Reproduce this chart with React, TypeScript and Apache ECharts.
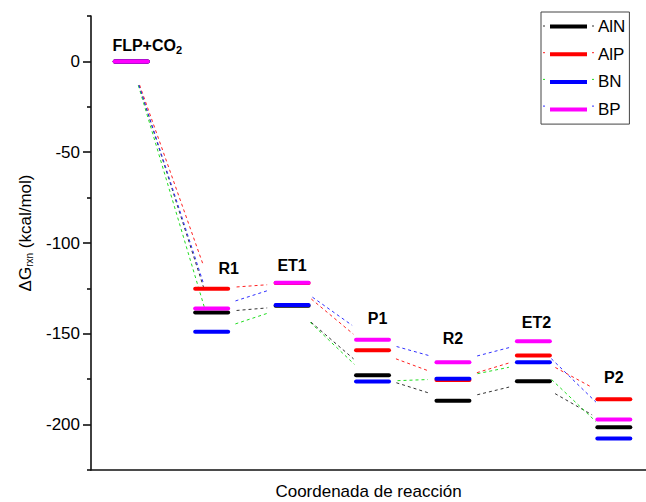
import React, { useEffect, useRef } from 'react';
import * as echarts from 'echarts';

// ---------- data ----------
const stages = ['FLP+CO2', 'R1', 'ET1', 'P1', 'R2', 'ET2', 'P2'];
const compounds = ['AlN', 'AlP', 'BN', 'BP'];
const alnValues = [0, -138.3, -134.6, -172.8, -186.8, -176.1, -201.5];
const alpValues = [0, -125.2, -122.0, -159.0, -175.4, -162.0, -186.0];
const bnValues = [0, -148.9, -134.2, -176.3, -174.7, -165.7, -207.7];
const bpValues = [0, -136.1, -121.9, -153.3, -165.7, -154.1, -197.2];
const majorTicks = [-200, -150, -100, -50, 0];
const minorTicks = [-225, -175, -125, -75, -25, 25];

// ---------- styles ----------
const FONT = 'Arial, "Liberation Sans", sans-serif';
const levelColors = ['#000000', '#ff0000', '#0000ff', '#ff00ff'];
const linkColors = ['#333333', '#ff2020', '#22dd22', '#3030ff'];
const HALF = 0.205; // half width of a level bar, in axis units
const GAP = 25; // px gap between connector end and level centre
const LABEL_DX = [16, 17, 0, 5, 0, 3, 0];
const LABEL_DY = [-16, -20, -17, -21, -24, -19, -22];
const LEGEND_LEFT = 541;
const LEGEND_TOP = 12;
const LEGEND_ROW0 = 26;
const LEGEND_ROW_STEP = 26.7;

const seriesValues = [alnValues, alpValues, bnValues, bpValues];

function buildOption() {
  const connectorSeries = compounds.map((name, k) => ({
    type: 'custom',
    name: name + ' link',
    z: 2,
    silent: true,
    encode: { x: 0, y: [1, 2] },
    data: seriesValues[k].slice(0, -1).map((v, i) => [i, v, seriesValues[k][i + 1]]),
    renderItem: (_params: any, api: any) => {
      const i = api.value(0);
      const a = api.coord([i, api.value(1)]);
      const b = api.coord([i + 1, api.value(2)]);
      const dx = b[0] - a[0];
      const dy = b[1] - a[1];
      const len = Math.hypot(dx, dy);
      const ux = dx / len;
      const uy = dy / len;
      return {
        type: 'line',
        shape: { x1: a[0] + ux * GAP, y1: a[1] + uy * GAP, x2: b[0] - ux * GAP, y2: b[1] - uy * GAP },
        style: { stroke: linkColors[k], lineWidth: 1, lineDash: [3, 3], fill: null },
      };
    },
  }));

  const levelSeries = compounds.map((name, k) => ({
    type: 'custom',
    name,
    z: 3,
    silent: true,
    itemStyle: { color: levelColors[k] },
    encode: { x: 0, y: 1 },
    data: seriesValues[k].map((v, i) => [i, v]),
    renderItem: (_params: any, api: any) => {
      const i = api.value(0);
      const v = api.value(1);
      const a = api.coord([i - HALF, v]);
      const b = api.coord([i + HALF, v]);
      return {
        type: 'line',
        shape: { x1: a[0], y1: a[1], x2: b[0], y2: b[1] },
        style: { stroke: levelColors[k], lineWidth: 4, lineCap: 'round', fill: null },
      };
    },
  }));

  const labelSeries = {
    type: 'custom',
    name: 'labels',
    z: 4,
    silent: true,
    encode: { x: 0, y: 1 },
    data: stages.map((s, i) => [i, Math.max(...seriesValues.map((arr) => arr[i]))]),
    renderItem: (params: any, api: any) => {
      const i = api.value(0);
      const p = api.coord([i, api.value(1)]);
      const name = stages[params.dataIndex];
      const isFirst = name === 'FLP+CO2';
      return {
        type: 'text',
        x: p[0] + LABEL_DX[params.dataIndex],
        y: p[1] + LABEL_DY[params.dataIndex],
        style: {
          text: isFirst ? '{b|FLP+CO}{s|2}' : '{b|' + name + '}',
          align: 'center',
          verticalAlign: 'middle',
          rich: {
            b: { fontFamily: FONT, fontWeight: 'bold', fontSize: 16, fill: '#000' },
            s: { fontFamily: FONT, fontWeight: 'bold', fontSize: 11, fill: '#000', padding: [9, 0, 0, 0] },
          },
        },
      };
    },
  };

  // small connector-colour dashes on both sides of each legend sample
  const legendDashes = compounds.flatMap((_n, k) => {
    const y = LEGEND_ROW0 + k * LEGEND_ROW_STEP;
    return [
      { type: 'line', shape: { x1: LEGEND_LEFT + 2, y1: y, x2: LEGEND_LEFT + 4, y2: y }, style: { stroke: linkColors[k], lineWidth: 1 } },
      { type: 'line', shape: { x1: LEGEND_LEFT + 51, y1: y, x2: LEGEND_LEFT + 53, y2: y }, style: { stroke: linkColors[k], lineWidth: 1 } },
    ];
  });

  return {
    animation: false,
    backgroundColor: '#ffffff',
    grid: { left: 91, right: 0, top: 16, bottom: 32, outerBoundsMode: 'none', containLabel: false },
    legend: {
      data: compounds,
      orient: 'vertical',
      left: LEGEND_LEFT,
      top: LEGEND_TOP,
      padding: [6, 4, 6, 9],
      itemGap: 10.7,
      itemWidth: 37,
      itemHeight: 4,
      icon: 'rect',
      borderColor: '#444',
      borderWidth: 1,
      selectedMode: false,
      textStyle: { fontFamily: FONT, fontSize: 17, color: '#000', lineHeight: 16, padding: [0, 0, 0, 6] },
    },
    graphic: legendDashes,
    xAxis: {
      type: 'value',
      min: -0.5,
      max: 6.4,
      name: 'Coordenada de reacción',
      nameLocation: 'middle',
      nameGap: 13,
      nameTextStyle: { fontFamily: FONT, fontSize: 17, color: '#000' },
      axisLine: { show: true, onZero: false, lineStyle: { color: '#111', width: 1.6 } },
      axisTick: { show: false },
      axisLabel: { show: false },
      splitLine: { show: false },
    },
    yAxis: [
      {
        type: 'value',
        position: 'left',
        min: -225,
        max: 25,
        name: '{a|ΔG}{s|rxn}{a| (kcal/mol)}',
        nameLocation: 'middle',
        nameGap: 57,
        nameTextStyle: {
          padding: [0, 0, 0, 20],
          rich: {
            a: { fontFamily: FONT, fontSize: 17, color: '#000' },
            s: { fontFamily: FONT, fontSize: 10, color: '#000', padding: [8, 0, 0, 0] },
          },
        },
        axisLine: { show: true, onZero: false, lineStyle: { color: '#111', width: 1.6 } },
        axisTick: { show: true, length: 8, customValues: majorTicks, lineStyle: { color: '#111', width: 1.6 } },
        axisLabel: { customValues: majorTicks, fontFamily: FONT, fontSize: 17, color: '#000', margin: 11 },
        splitLine: { show: false },
      },
      {
        type: 'value',
        position: 'left',
        offset: 0,
        min: -225,
        max: 25,
        axisLine: { show: false, onZero: false },
        axisTick: { show: true, length: 4, customValues: minorTicks, lineStyle: { color: '#111', width: 1.6 } },
        axisLabel: { show: false },
        splitLine: { show: false },
      },
    ],
    series: [...connectorSeries, ...levelSeries, labelSeries],
  };
}

export default function App() {
  const ref = useRef<HTMLDivElement>(null);
  useEffect(() => {
    const chart = echarts.init(ref.current!, null, { renderer: 'svg' });
    chart.setOption(buildOption() as any);
    return () => chart.dispose();
  }, []);
  return <div ref={ref} style={{ position: 'absolute', left: 0, top: 0, width: 646, height: 502 }} />;
}
